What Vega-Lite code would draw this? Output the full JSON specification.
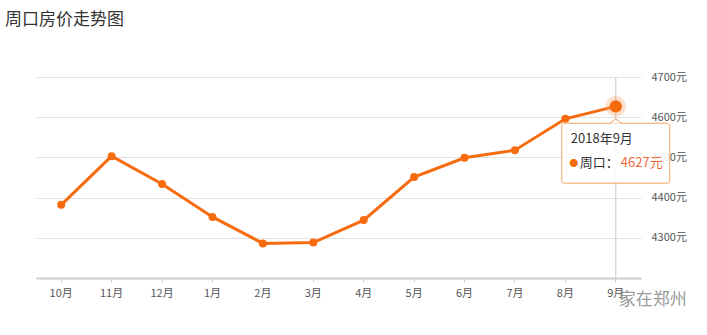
{
  "$schema": "https://vega.github.io/schema/vega-lite/v6.json",
  "width": 605,
  "height": 201,
  "autosize": "none",
  "padding": {"left": 36, "top": 77, "right": 66, "bottom": 57},
  "background": "#ffffff",
  "title": {
    "text": "周口房价走势图",
    "anchor": "start",
    "frame": "group",
    "font": "Noto Sans CJK SC",
    "fontSize": 17,
    "fontWeight": "normal",
    "color": "#333333",
    "baseline": "alphabetic",
    "offset": 29,
    "dx": -31
  },
  "config": {
    "view": {"stroke": null},
    "font": "Noto Sans CJK SC",
    "axis": {"labelFont": "Noto Sans CJK SC", "labelFontSize": 11, "labelColor": "#555555"}
  },
  "datasets": {
    "prices": [
      {"month": "10月", "price": 4382},
      {"month": "11月", "price": 4503},
      {"month": "12月", "price": 4434},
      {"month": "1月", "price": 4352},
      {"month": "2月", "price": 4286},
      {"month": "3月", "price": 4288},
      {"month": "4月", "price": 4344},
      {"month": "5月", "price": 4451},
      {"month": "6月", "price": 4499},
      {"month": "7月", "price": 4518},
      {"month": "8月", "price": 4596},
      {"month": "9月", "price": 4627}
    ],
    "tip": [
      {"month": "9月", "date": "2018年9月", "series": "周口：", "price": 4627}
    ],
    "mark": [
      {"month": "9月", "source": "家在郑州"}
    ]
  },
  "data": {"name": "prices"},
  "encoding": {
    "x": {
      "field": "month",
      "type": "ordinal",
      "sort": ["10月", "11月", "12月", "1月", "2月", "3月", "4月", "5月", "6月", "7月", "8月", "9月"],
      "scale": {"type": "band", "paddingInner": 0, "paddingOuter": 0},
      "axis": {
        "title": null,
        "labelAngle": 0,
        "domainColor": "#cccccc",
        "domainWidth": 2,
        "tickColor": "#cccccc",
        "tickSize": 4,
        "labelPadding": 5,
        "grid": false
      }
    }
  },
  "layer": [
    {
      "transform": [{"filter": "datum.month == '9月'"}],
      "mark": {"type": "rule", "color": "#c8c8c8", "strokeWidth": 1},
      "encoding": {}
    },
    {
      "mark": {"type": "line", "color": "#f76b0f", "strokeWidth": 3},
      "encoding": {
        "y": {
          "field": "price",
          "type": "quantitative",
          "scale": {"domain": [4200, 4700], "nice": false, "zero": false},
          "axis": {
            "orient": "right",
            "title": null,
            "values": [4200, 4300, 4400, 4500, 4600, 4700],
            "labelExpr": "datum.value == 4200 ? '' : datum.value + '元'",
            "domain": false,
            "ticks": false,
            "labelPadding": 10,
            "gridColor": "#e2e2e2",
            "grid": true
          }
        }
      }
    },
    {
      "mark": {"type": "circle", "color": "#f76b0f", "size": 64, "opacity": 1},
      "encoding": {"y": {"field": "price", "type": "quantitative"}}
    },
    {
      "transform": [{"filter": "datum.month == '9月'"}],
      "mark": {"type": "circle", "color": "#f9a46c", "size": 420, "opacity": 0.35},
      "encoding": {"y": {"field": "price", "type": "quantitative"}}
    },
    {
      "transform": [{"filter": "datum.month == '9月'"}],
      "mark": {"type": "circle", "color": "#f76b0f", "size": 150, "opacity": 1},
      "encoding": {"y": {"field": "price", "type": "quantitative"}}
    },
    {
      "data": {"name": "tip"},
      "mark": {"type": "rect", "width": 108, "fill": "#ffffff", "fillOpacity": 0.88, "stroke": "#f2a35e", "strokeWidth": 1, "cornerRadius": 2},
      "encoding": {
        "y": {"datum": 4585},
        "y2": {"datum": 4436}
      }
    },
    {
      "data": {"name": "tip"},
      "mark": {"type": "point", "shape": "M-1,0.4L0,-0.4L1,0.4Z", "size": 144, "filled": true, "fill": "#ffffff", "stroke": null, "opacity": 1},
      "encoding": {"y": {"datum": 4590}}
    },
    {
      "data": {"name": "tip"},
      "mark": {"type": "point", "shape": "M-1,0.4L0,-0.4L1,0.4", "size": 144, "filled": false, "fill": null, "stroke": "#f2a35e", "strokeWidth": 1, "opacity": 1},
      "encoding": {"y": {"datum": 4590}}
    },
    {
      "data": {"name": "tip"},
      "mark": {"type": "text", "align": "left", "baseline": "middle", "dx": -45, "fontSize": 13, "color": "#333333", "font": "Noto Sans CJK SC"},
      "encoding": {"y": {"datum": 4546}, "text": {"field": "date"}}
    },
    {
      "data": {"name": "tip"},
      "mark": {"type": "text", "align": "center", "baseline": "middle", "dx": -42, "fontSize": 9, "color": "#f76b0f"},
      "encoding": {"y": {"datum": 4487}, "text": {"value": "●"}}
    },
    {
      "data": {"name": "tip"},
      "mark": {"type": "text", "align": "left", "baseline": "middle", "dx": -36, "fontSize": 13, "color": "#333333", "font": "Noto Sans CJK SC"},
      "encoding": {"y": {"datum": 4486}, "text": {"field": "series"}}
    },
    {
      "data": {"name": "tip"},
      "transform": [{"calculate": "datum.price + '元'", "as": "priceLabel"}],
      "mark": {"type": "text", "align": "left", "baseline": "middle", "dx": 5, "fontSize": 13, "color": "#f0683a", "font": "Noto Sans CJK SC"},
      "encoding": {"y": {"datum": 4486}, "text": {"field": "priceLabel"}}
    },
    {
      "data": {"name": "mark"},
      "mark": {"type": "text", "align": "left", "baseline": "middle", "dx": 3, "fontSize": 17, "color": "#8a8a8a", "opacity": 0.85, "font": "Noto Sans CJK SC"},
      "encoding": {"y": {"datum": 4145}, "text": {"field": "source"}}
    }
  ]
}
